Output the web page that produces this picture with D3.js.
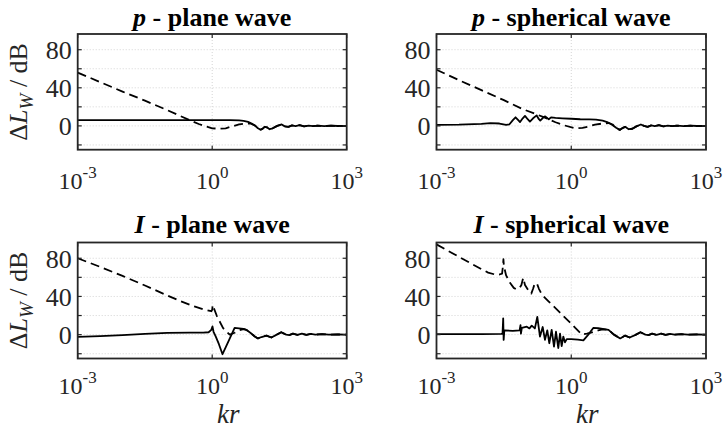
<!DOCTYPE html>
<html><head><meta charset="utf-8">
<script src="https://cdn.jsdelivr.net/npm/d3@7"></script>
<style>html,body{margin:0;padding:0;background:#fff;} svg{display:block;}
svg text{font-family:"Liberation Serif","Times New Roman",Times,"DejaVu Serif",serif;}</style>
</head><body>
<svg id="chart" width="724" height="431"></svg>
<script>
// ---- data (log10(kr) exponents and level differences in dB) ----
const xTickExps = [-3, 0, 3];
const yTicks = [-20, 0, 20, 40, 60, 80];
const yTickLabels = [0, 40, 80];
const titleSymbols = ["p", "p", "I", "I"];
const titleTexts = [" - plane wave", " - spherical wave", " - plane wave", " - spherical wave"];

const p1SolidLogKr = [-3,-2,-1,0,0.4,0.6,0.7,0.8,0.88,0.95,1.02,1.08,1.12,1.17,1.22,1.28,1.35,1.45,1.55,1.62,1.7,1.78,1.86,1.95,2.05,2.15,2.25,2.35,2.5,2.65,2.8,3];
const p1SolidDb    = [6,6,6,6,6,5.8,5.3,4.2,2.5,0.5,-2.5,-4,-3.2,-1,-1.5,-3.5,-2.5,0,1.5,-0.5,-1,0.5,-0.3,0.8,-0.5,0.3,-0.3,0.3,-0.2,0.2,-0.1,0];
const p1DashLogKr  = [-3,-2.5,-2,-1.5,-1,-0.75,-0.5,-0.3,-0.15,0,0.15,0.3,0.45,0.6,0.75,0.85,0.95,1.02,1.08,1.12,1.17,1.22,1.28,1.35,1.45,1.55,1.62,1.7,1.78,1.86,1.95,2.05,2.15,2.25,2.35,2.5,2.65,2.8,3];
const p1DashDb     = [56,46,36,26.5,16.5,11.2,6,2,-0.5,-2.5,-3,-2.5,-0.5,1.5,2.5,2.5,0.5,-2.5,-4,-3.2,-1,-1.5,-3.5,-2.5,0,1.5,-0.5,-1,0.5,-0.3,0.8,-0.5,0.3,-0.3,0.3,-0.2,0.2,-0.1,0];

const p2SolidLogKr = [-3,-2.5,-2,-1.8,-1.6,-1.45,-1.38,-1.3,-1.24,-1.18,-1.14,-1.08,-1.03,-0.97,-0.92,-0.85,-0.77,-0.72,-0.69,-0.63,-0.58,-0.53,-0.5,-0.45,-0.35,-0.2,0,0.2,0.4,0.55,0.7,0.8,0.9,1.0,1.08,1.15,1.2,1.28,1.36,1.45,1.55,1.62,1.7,1.78,1.86,1.95,2.05,2.15,2.25,2.35,2.5,2.65,2.8,3];
const p2SolidDb    = [1,1.3,2.2,3,2.5,1,1.5,6,9,6,4,8,10.5,7,4.5,8,11,7,5.5,8.5,10,8,7,9,8.5,8,7.5,7,6.8,6.5,5.5,4,1.5,-2,-4.2,-2,-1,-3.5,-3,-0.5,1.5,0,-1,0.5,-0.3,0.8,-0.5,0.3,-0.3,0.3,-0.2,0.2,-0.1,0];
const p2DashLogKr  = [-3,-2.5,-2,-1.5,-1.1,-0.8,-0.6,-0.35,-0.15,0.08,0.25,0.4,0.53,0.7,0.84,0.92,1.0,1.08,1.15,1.2,1.28,1.36,1.45,1.55,1.62,1.7,1.78,1.86,1.95,2.05,2.15,2.25,2.35,2.5,2.65,2.8,3];
const p2DashDb     = [59,48,37.5,27,18,12.6,9,3.8,0.5,-2.5,-2,-0.5,1.4,2.5,3,1.5,-2,-4.2,-2,-1,-3.5,-3,-0.5,1.5,0,-1,0.5,-0.3,0.8,-0.5,0.3,-0.3,0.3,-0.2,0.2,-0.1,0];

const i1SolidLogKr = [-3,-2.5,-2,-1.5,-1,-0.5,-0.2,-0.08,-0.02,0.006,0.03,0.08,0.15,0.23,0.3,0.38,0.5,0.6,0.7,0.76,0.85,0.95,1.02,1.1,1.21,1.32,1.42,1.54,1.65,1.72,1.8,1.9,2.0,2.1,2.2,2.3,2.45,2.6,2.8,3];
const i1SolidDb    = [-2.4,-1.5,-0.5,0.8,1.8,2,2,2.5,5,8.6,3,-2,-10,-20.5,-13.4,-5.2,7,6.5,6,5,2,-2,-4,-2.5,-1,-3,-0.5,2.5,0,-0.5,1,-0.3,1,-0.3,0.7,0,0.5,0,0.2,0];
const i1DashLogKr  = [-3,-2.5,-2,-1.5,-1,-0.7,-0.4,-0.2,-0.02,0.0,0.01,0.1,0.24,0.39,0.5,0.6,0.7,0.76,0.85,0.95,1.02,1.1,1.21,1.32,1.42,1.54,1.65,1.72,1.8,1.9,2.0,2.1,2.2,2.3,2.45,2.6,2.8,3];
const i1DashDb     = [80,71,61.5,51.5,41,35,29.5,26.5,24.5,26,31,20,7,0,2,4.5,5.8,5,2,-2,-4,-2.5,-1,-3,-0.5,2.5,0,-0.5,1,-0.3,1,-0.3,0.7,0,0.5,0,0.2,0];

const i2SolidLogKr = [-3,-2,-1.56,-1.53,-1.515,-1.505,-1.49,-1.3,-1.15,-1.13,-1.12,-1.1,-0.99,-0.93,-0.88,-0.81,-0.756,-0.696,-0.636,-0.585,-0.533,-0.489,-0.436,-0.384,-0.34,-0.288,-0.25,-0.213,-0.177,-0.14,-0.1,0,0.15,0.27,0.38,0.49,0.6,0.7,0.83,0.95,1.09,1.2,1.3,1.42,1.54,1.65,1.72,1.8,1.9,2.0,2.1,2.2,2.3,2.45,2.6,2.8,3];
const i2SolidDb    = [0.5,0.5,0.8,1,17,-5.5,4.5,4,4.5,10,1,7,8.3,6.5,9.4,6.5,18.5,-2,8,-5.5,4.5,-9,5,-12.5,3,-14,1,-12,-2,-8,-4.7,-4.8,-5.3,-6,0,7,6.8,6,5,0,-4,-1,-3,-0.5,2.5,0,-0.5,1,-0.3,1,-0.3,0.7,0,0.5,0,0.2,0];
const i2DashLogKr  = [-3,-2.5,-2,-1.85,-1.7,-1.6,-1.54,-1.52,-1.51,-1.5,-1.45,-1.36,-1.28,-1.22,-1.15,-1.11,-1.07,-1.03,-0.95,-0.89,-0.85,-0.81,-0.76,-0.72,-0.65,-0.5,-0.25,0,0.09,0.24,0.35,0.46,0.6,0.7,0.83,0.95,1.09,1.2,1.3,1.42,1.54,1.65,1.72,1.8,1.9,2.0,2.1,2.2,2.3,2.45,2.6,2.8,3];
const i2DashDb     = [94.5,81.5,68.5,65,63,63,64,72,79,72,62,54,49,47.5,49,52,59.5,52,46,43,48,54,53,48,41.6,34.6,23,11.5,7,0,1,2.4,4.5,5.5,5,0,-4,-1,-3,-0.5,2.5,0,-0.5,1,-0.3,1,-0.3,0.7,0,0.5,0,0.2,0];

// ---- layout ----
const panelBoxes = [
  {l: 77.7, r: 346.7, t: 34, b: 149.7},
  {l: 436.5, r: 706, t: 34, b: 149.7},
  {l: 77.7, r: 346.7, t: 242.5, b: 358.5},
  {l: 436.5, r: 706, t: 242.5, b: 358.5}
];
const series = [
  [[p1SolidLogKr, p1SolidDb], [p1DashLogKr, p1DashDb]],
  [[p2SolidLogKr, p2SolidDb], [p2DashLogKr, p2DashDb]],
  [[i1SolidLogKr, i1SolidDb], [i1DashLogKr, i1DashDb]],
  [[i2SolidLogKr, i2SolidDb], [i2DashLogKr, i2DashDb]]
];

const svg = d3.select("#chart");
svg.append("rect").attr("width", 724).attr("height", 431).attr("fill", "#fff");

panelBoxes.forEach((bx, i) => {
  const x = d3.scaleLog().domain([1e-3, 1e3]).range([bx.l, bx.r]);
  const y = d3.scaleLinear().domain([-25, 96.5]).range([bx.b, bx.t]);
  const g = svg.append("g");
  const clipId = "clip" + i;
  svg.append("clipPath").attr("id", clipId).append("rect")
    .attr("x", bx.l).attr("y", bx.t).attr("width", bx.r - bx.l).attr("height", bx.b - bx.t);

  // grid
  g.selectAll(".gy").data(yTicks).join("line")
    .attr("x1", bx.l).attr("x2", bx.r).attr("y1", d => y(d)).attr("y2", d => y(d))
    .attr("stroke", "#d4d4d4").attr("stroke-width", 1).attr("stroke-dasharray", "1,2");
  g.selectAll(".gx").data(xTickExps.filter(e => e > -3 && e < 3)).join("line")
    .attr("x1", d => x(Math.pow(10, d))).attr("x2", d => x(Math.pow(10, d)))
    .attr("y1", bx.t).attr("y2", bx.b)
    .attr("stroke", "#d4d4d4").attr("stroke-width", 1).attr("stroke-dasharray", "1,2");

  // lines
  const line = d3.line().x(d => x(Math.pow(10, d[0]))).y(d => y(d[1]));
  series[i].forEach((s, k) => {
    const pts = s[0].map((e, j) => [e, s[1][j]]);
    g.append("path").datum(pts).attr("d", line)
      .attr("clip-path", `url(#${clipId})`)
      .attr("fill", "none").attr("stroke", "#000").attr("stroke-width", 1.8)
      .attr("stroke-linejoin", "round")
      .attr("stroke-dasharray", k === 1 ? "9,5" : null);
  });

  // ticks (inward, mirrored)
  const tl = 4;
  yTicks.forEach(v => {
    g.append("line").attr("x1", bx.l).attr("x2", bx.l + tl).attr("y1", y(v)).attr("y2", y(v))
      .attr("stroke", "#262626").attr("stroke-width", 1.2);
    g.append("line").attr("x1", bx.r).attr("x2", bx.r - tl).attr("y1", y(v)).attr("y2", y(v))
      .attr("stroke", "#262626").attr("stroke-width", 1.2);
  });
  xTickExps.forEach(e => {
    const xv = x(Math.pow(10, e));
    g.append("line").attr("x1", xv).attr("x2", xv).attr("y1", bx.b).attr("y2", bx.b - tl)
      .attr("stroke", "#262626").attr("stroke-width", 1.2);
    g.append("line").attr("x1", xv).attr("x2", xv).attr("y1", bx.t).attr("y2", bx.t + tl)
      .attr("stroke", "#262626").attr("stroke-width", 1.2);
  });

  // box
  g.append("rect").attr("x", bx.l).attr("y", bx.t).attr("width", bx.r - bx.l).attr("height", bx.b - bx.t)
    .attr("fill", "none").attr("stroke", "#262626").attr("stroke-width", 1.8);

  // y tick labels
  yTickLabels.forEach(v => {
    g.append("text").attr("x", bx.l - 6).attr("y", y(v) + 9.5)
      .attr("text-anchor", "end").attr("font-size", 26)
      .attr("fill", "#262626").text(v);
  });

  // x tick labels
  const xlBase = i < 2 ? bx.b + 38.8 : bx.b + 35;
  xTickExps.forEach(e => {
    const t = g.append("text").attr("x", x(Math.pow(10, e))).attr("y", xlBase)
      .attr("text-anchor", "middle").attr("fill", "#262626");
    t.append("tspan").attr("font-size", 24).text("10");
    t.append("tspan").attr("font-size", 17).attr("dy", -10.5).text(e);
  });

  // title
  const tt = g.append("text").attr("x", (bx.l + bx.r) / 2).attr("y", bx.t - (i < 2 ? 8 : 10))
    .attr("text-anchor", "middle").attr("font-size", 26)
    .attr("font-weight", "bold").attr("fill", "#000");
  tt.append("tspan").attr("font-style", "italic").text(titleSymbols[i]);
  tt.append("tspan").text(titleTexts[i]);

  // y label (left column)
  if (i % 2 === 0) {
    const cy = (bx.t + bx.b) / 2;
    const yl = g.append("text").attr("transform", `translate(27,${cy}) rotate(-90)`)
      .attr("text-anchor", "middle").attr("font-size", 26).attr("fill", "#262626");
    yl.append("tspan").text("\u0394");
    yl.append("tspan").attr("font-style", "italic").text("L");
    yl.append("tspan").attr("font-style", "italic").attr("font-size", 19).attr("dy", 6).text("W");
    yl.append("tspan").attr("dy", -6).text(" / dB");
  }
  // x label (bottom row)
  if (i >= 2) {
    g.append("text").attr("x", (bx.l + bx.r) / 2 + 16).attr("y", 423)
      .attr("text-anchor", "middle").attr("font-size", 27)
      .attr("font-style", "italic").attr("fill", "#262626").text("kr");
  }
});
</script>
</body></html>
